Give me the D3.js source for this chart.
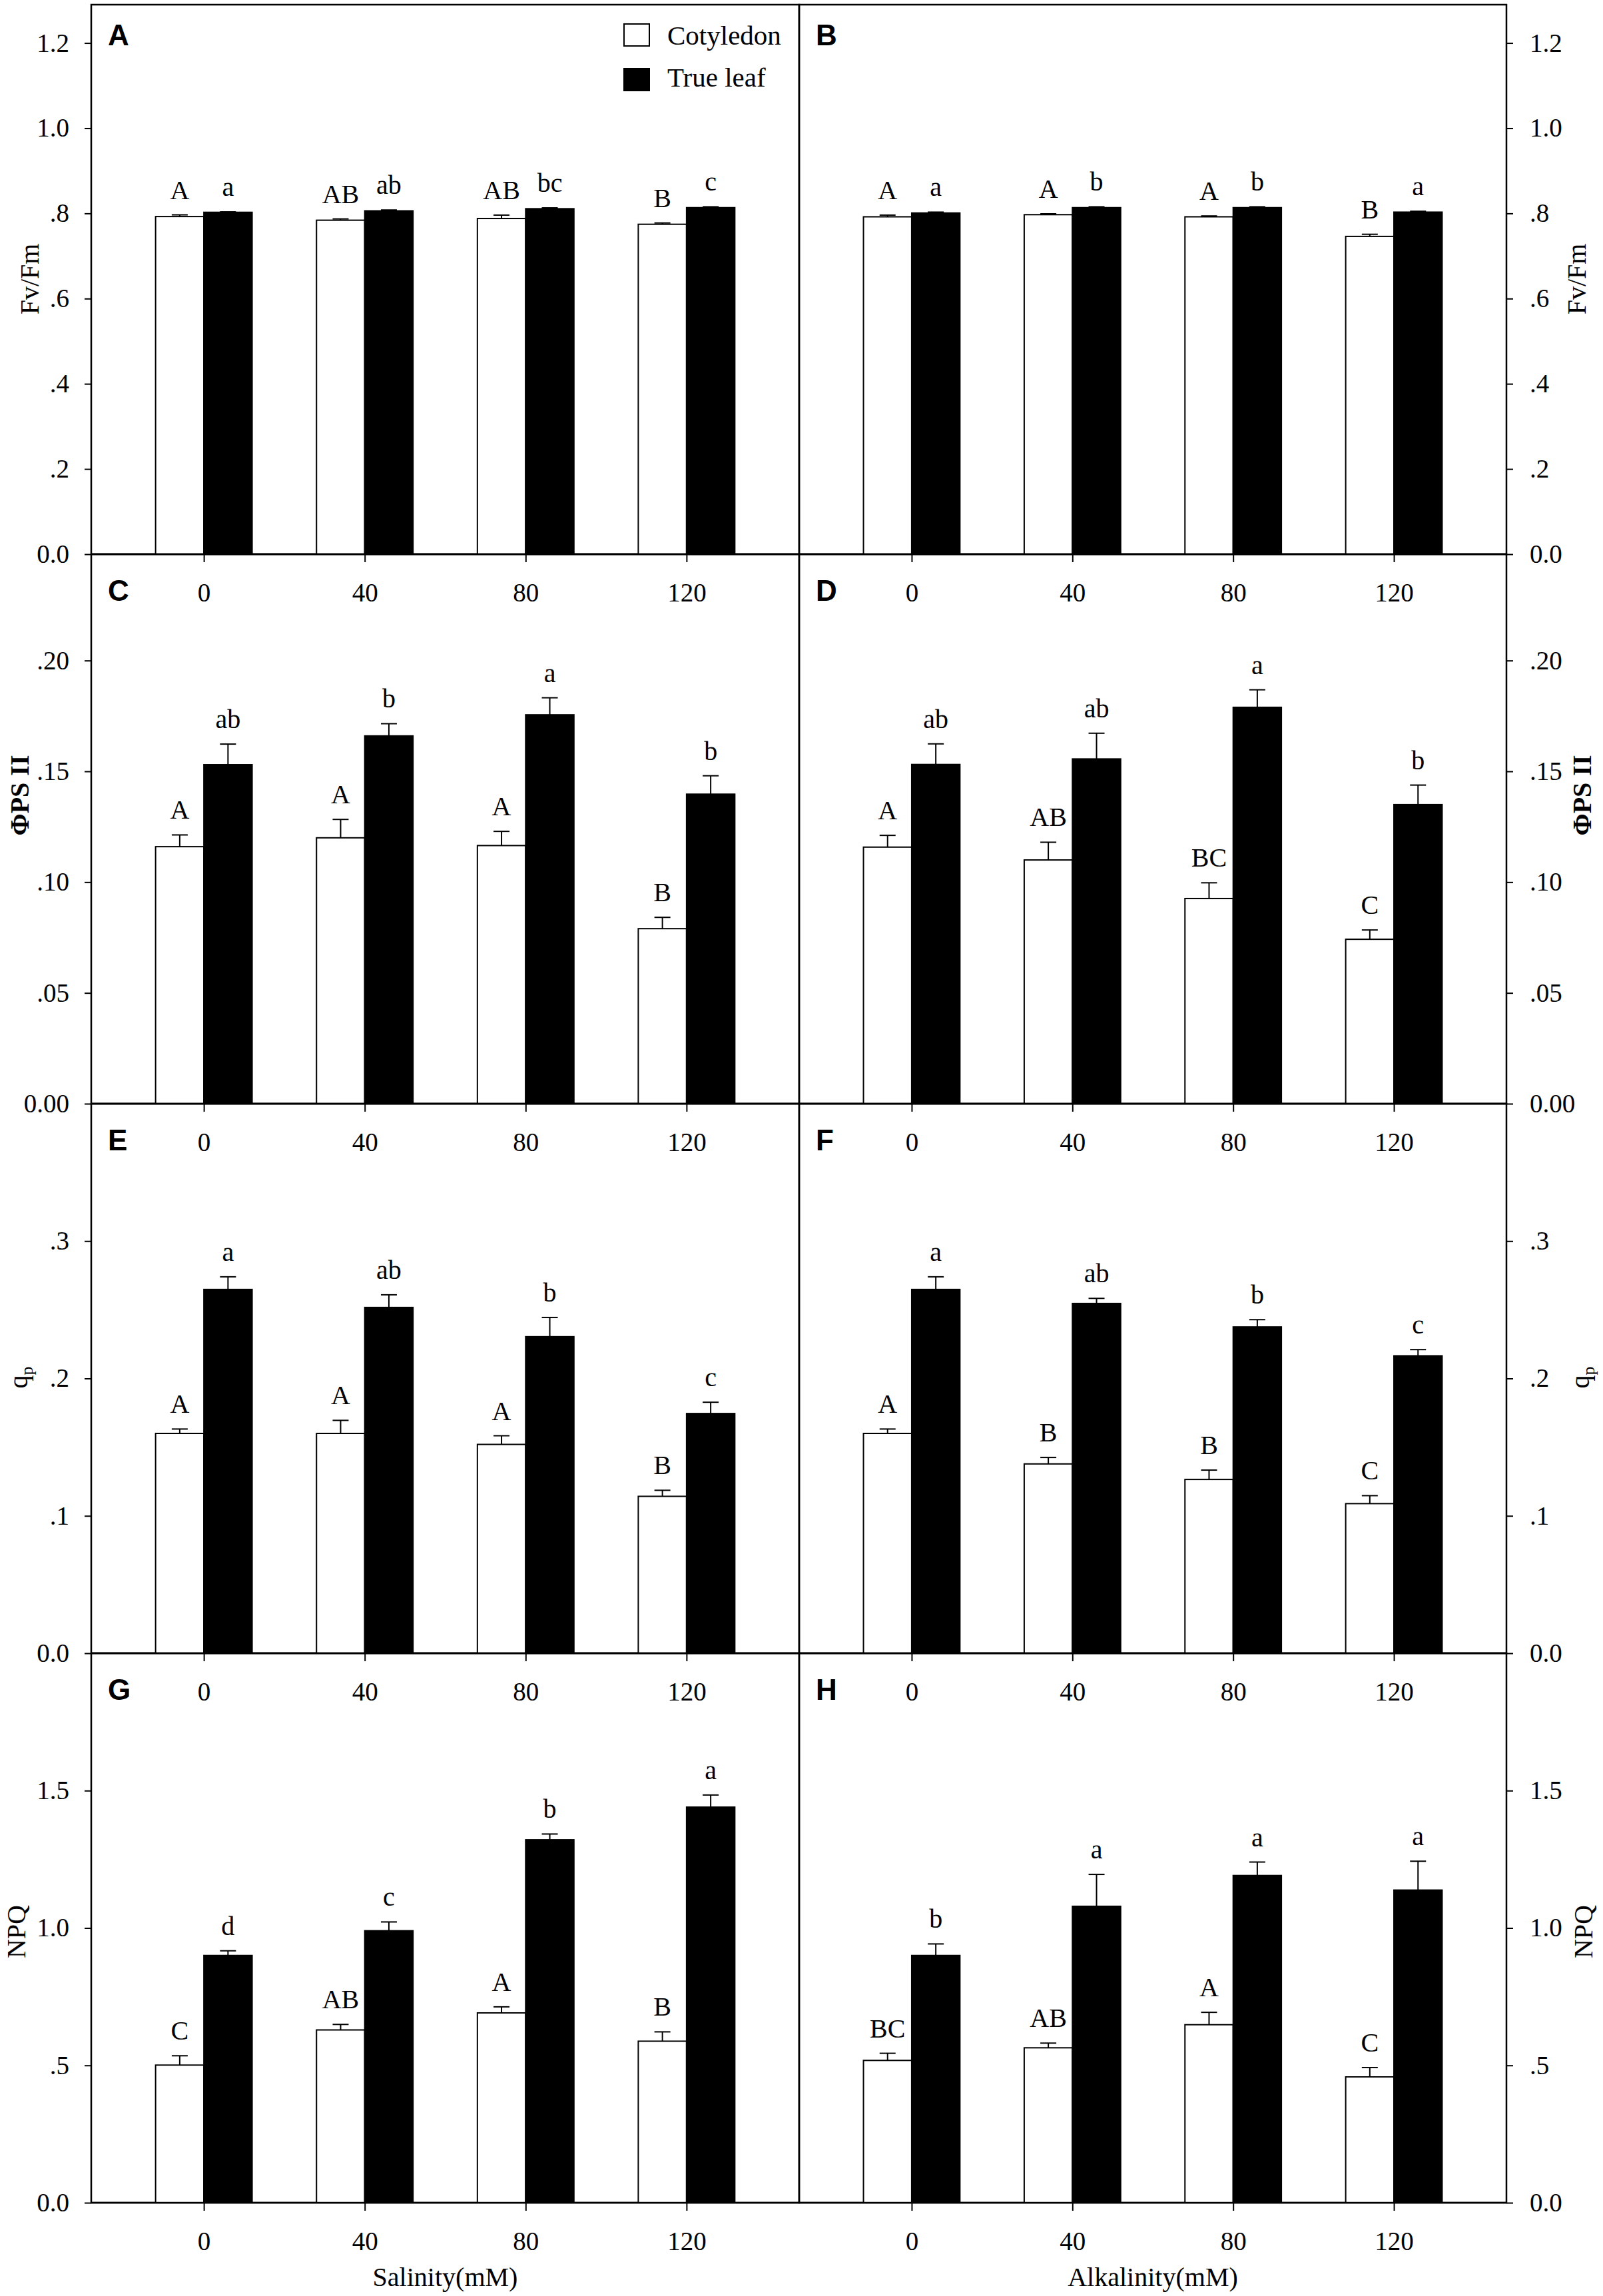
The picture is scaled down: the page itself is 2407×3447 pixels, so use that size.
<!DOCTYPE html>
<html><head><meta charset="utf-8">
<script src="https://cdn.jsdelivr.net/npm/d3@7"></script>
<style>body{margin:0;background:#fff}svg text{font-family:"Liberation Serif","Times New Roman",serif}</style>
</head><body><div id="chart"></div>
<script>
// ---------- data ----------
const concentrations = [0, 40, 80, 120];
const seriesNames = ["Cotyledon", "True leaf"];
const xTickLabels = ["0", "40", "80", "120"];

// Fv/Fm (A: salinity, B: alkalinity)
const fvfmYTicks = [0, 0.2, 0.4, 0.6, 0.8, 1.0, 1.2];
const fvfmYTickLabels = ["0.0", ".2", ".4", ".6", ".8", "1.0", "1.2"];
const A_cot = [0.7926, 0.784, 0.788, 0.7745];
const A_cotErr = [0.004, 0.003, 0.008, 0.003];
const A_leaf = [0.8026, 0.806, 0.811, 0.8135];
const A_leafErr = [0.001, 0.002, 0.002, 0.002];
const A_cotSig = ["A", "AB", "AB", "B"];
const A_leafSig = ["a", "ab", "bc", "c"];
const B_cot = [0.792, 0.797, 0.792, 0.746];
const B_cotErr = [0.004, 0.002, 0.002, 0.005];
const B_leaf = [0.801, 0.8135, 0.8135, 0.803];
const B_leafErr = [0.002, 0.002, 0.002, 0.002];
const B_cotSig = ["A", "A", "A", "B"];
const B_leafSig = ["a", "b", "b", "a"];

// ΦPSII (C: salinity, D: alkalinity)
const phiYTicks = [0, 0.05, 0.10, 0.15, 0.20];
const phiYTickLabels = ["0.00", ".05", ".10", ".15", ".20"];
const C_cot = [0.116, 0.120, 0.1165, 0.079];
const C_cotErr = [0.0053, 0.0083, 0.0064, 0.0051];
const C_leaf = [0.153, 0.166, 0.1755, 0.1397];
const C_leafErr = [0.0093, 0.0055, 0.0077, 0.0083];
const C_cotSig = ["A", "A", "A", "B"];
const C_leafSig = ["ab", "b", "a", "b"];
const D_cot = [0.1158, 0.110, 0.0926, 0.0742];
const D_cotErr = [0.0053, 0.008, 0.0071, 0.0042];
const D_leaf = [0.1531, 0.1556, 0.1789, 0.135];
const D_leafErr = [0.0093, 0.0116, 0.0079, 0.0088];
const D_cotSig = ["A", "AB", "BC", "C"];
const D_leafSig = ["ab", "ab", "a", "b"];

// qP (E: salinity, F: alkalinity)
const qpYTicks = [0, 0.1, 0.2, 0.3];
const qpYTickLabels = ["0.0", ".1", ".2", ".3"];
const E_cot = [0.160, 0.160, 0.152, 0.1142];
const E_cotErr = [0.0032, 0.0095, 0.0063, 0.0044];
const E_leaf = [0.2648, 0.2517, 0.2304, 0.1745];
const E_leafErr = [0.0092, 0.0092, 0.014, 0.0082];
const E_cotSig = ["A", "A", "A", "B"];
const E_leafSig = ["a", "ab", "b", "c"];
const F_cot = [0.160, 0.1378, 0.1265, 0.1089];
const F_cotErr = [0.0032, 0.0047, 0.0068, 0.0058];
const F_leaf = [0.2648, 0.2546, 0.2375, 0.2165];
const F_leafErr = [0.0092, 0.0037, 0.0053, 0.0045];
const F_cotSig = ["A", "B", "B", "C"];
const F_leafSig = ["a", "ab", "b", "c"];

// NPQ (G: salinity, H: alkalinity)
const npqYTicks = [0, 0.5, 1.0, 1.5];
const npqYTickLabels = ["0.0", ".5", "1.0", "1.5"];
const G_cot = [0.501, 0.629, 0.691, 0.588];
const G_cotErr = [0.034, 0.020, 0.022, 0.034];
const G_leaf = [0.900, 0.990, 1.321, 1.440];
const G_leafErr = [0.017, 0.032, 0.021, 0.044];
const G_cotSig = ["C", "AB", "A", "B"];
const G_leafSig = ["d", "c", "b", "a"];
const H_cot = [0.518, 0.564, 0.648, 0.458];
const H_cotErr = [0.026, 0.017, 0.045, 0.034];
const H_leaf = [0.900, 1.079, 1.191, 1.138];
const H_leafErr = [0.042, 0.116, 0.049, 0.105];
const H_cotSig = ["BC", "AB", "A", "C"];
const H_leafSig = ["b", "a", "a", "a"];

const xTitles = ["Salinity(mM)", "Alkalinity(mM)"];

// ---------- panel table ----------
const rows = [
  {title: "Fv/Fm", ymax: 1.29, ticks: fvfmYTicks, labels: fvfmYTickLabels, kind: "plain"},
  {title: "ΦPS II", ymax: 0.248, ticks: phiYTicks, labels: phiYTickLabels, kind: "phi"},
  {title: "q", ymax: 0.4, ticks: qpYTicks, labels: qpYTickLabels, kind: "qp"},
  {title: "NPQ", ymax: 2.0, ticks: npqYTicks, labels: npqYTickLabels, kind: "plain"}
];
const panels = [
  {id: "A", r: 0, c: 0, cot: A_cot, cotErr: A_cotErr, leaf: A_leaf, leafErr: A_leafErr, cotSig: A_cotSig, leafSig: A_leafSig},
  {id: "B", r: 0, c: 1, cot: B_cot, cotErr: B_cotErr, leaf: B_leaf, leafErr: B_leafErr, cotSig: B_cotSig, leafSig: B_leafSig},
  {id: "C", r: 1, c: 0, cot: C_cot, cotErr: C_cotErr, leaf: C_leaf, leafErr: C_leafErr, cotSig: C_cotSig, leafSig: C_leafSig},
  {id: "D", r: 1, c: 1, cot: D_cot, cotErr: D_cotErr, leaf: D_leaf, leafErr: D_leafErr, cotSig: D_cotSig, leafSig: D_leafSig},
  {id: "E", r: 2, c: 0, cot: E_cot, cotErr: E_cotErr, leaf: E_leaf, leafErr: E_leafErr, cotSig: E_cotSig, leafSig: E_leafSig},
  {id: "F", r: 2, c: 1, cot: F_cot, cotErr: F_cotErr, leaf: F_leaf, leafErr: F_leafErr, cotSig: F_cotSig, leafSig: F_leafSig},
  {id: "G", r: 3, c: 0, cot: G_cot, cotErr: G_cotErr, leaf: G_leaf, leafErr: G_leafErr, cotSig: G_cotSig, leafSig: G_leafSig},
  {id: "H", r: 3, c: 1, cot: H_cot, cotErr: H_cotErr, leaf: H_leaf, leafErr: H_leafErr, cotSig: H_cotSig, leafSig: H_leafSig}
];

// ---------- layout ----------
const W = 2407, H = 3447;
const colX = [[137, 1200], [1200, 2262]];
const rowTop0 = 7, rowH = 825;
const barW = 12; // in mM units
const FS = 39;
const titleLeftX = [58, 43, 41, 38];
const titleRightX = [2381, 2389, 2386, 2391];
const titleCY = [419, 1194, 2068, 2900];

const svg = d3.select("#chart").append("svg").attr("width", W).attr("height", H)
  .style("background", "#fff");

panels.forEach(p => {
  const row = rows[p.r];
  const top = rowTop0 + p.r * rowH, bottom = top + rowH;
  const [x0, x1] = colX[p.c];
  const x = d3.scaleLinear().domain([-28, 148]).range([x0, x1]);
  const y = d3.scaleLinear().domain([0, row.ymax]).range([bottom, top]);
  const g = svg.append("g");

  // frame
  g.append("rect").attr("x", x0).attr("y", top).attr("width", x1 - x0).attr("height", rowH)
    .attr("fill", "none").attr("stroke", "#000").attr("stroke-width", 2.5);

  // bars
  const data = concentrations.map((c, i) => ({c, i}));
  g.selectAll(".cot").data(data).enter().append("rect")
    .attr("x", d => x(d.c - barW)).attr("width", d => x(d.c) - x(d.c - barW))
    .attr("y", d => y(p.cot[d.i])).attr("height", d => y(0) - y(p.cot[d.i]))
    .attr("fill", "#fff").attr("stroke", "#000").attr("stroke-width", 2);
  g.selectAll(".leaf").data(data).enter().append("rect")
    .attr("x", d => x(d.c)).attr("width", d => x(d.c + barW) - x(d.c))
    .attr("y", d => y(p.leaf[d.i])).attr("height", d => y(0) - y(p.leaf[d.i]))
    .attr("fill", "#000").attr("stroke", "#000").attr("stroke-width", 2);

  // error bars + significance letters
  const series = [
    {vals: p.cot, errs: p.cotErr, sig: p.cotSig, off: -barW / 2},
    {vals: p.leaf, errs: p.leafErr, sig: p.leafSig, off: barW / 2}
  ];
  series.forEach(s => {
    data.forEach(d => {
      const cx = x(d.c + s.off);
      const yv = y(s.vals[d.i]), ye = y(s.vals[d.i] + s.errs[d.i]);
      g.append("line").attr("x1", cx).attr("x2", cx).attr("y1", yv).attr("y2", ye)
        .attr("stroke", "#000").attr("stroke-width", 2);
      g.append("line").attr("x1", cx - 12).attr("x2", cx + 12).attr("y1", ye).attr("y2", ye)
        .attr("stroke", "#000").attr("stroke-width", 2);
      g.append("text").attr("x", cx).attr("y", ye - 24).attr("text-anchor", "middle")
        .attr("font-size", 40).text(s.sig[d.i]);
    });
  });

  // x axis
  const xa = g.append("g").attr("transform", `translate(0,${bottom})`)
    .call(d3.axisBottom(x).tickValues(concentrations).tickFormat((d, i) => xTickLabels[i])
      .tickSize(12).tickPadding(31));
  xa.select(".domain").attr("stroke-width", 2.5).attr("d", `M${x0},0H${x1}`);
  xa.selectAll(".tick line").attr("stroke-width", 2);
  xa.selectAll("text").attr("font-size", FS).attr("font-family", "Liberation Serif");

  // y axis
  const yAxis = p.c === 0 ? d3.axisLeft(y) : d3.axisRight(y);
  const ya = g.append("g").attr("transform", `translate(${p.c === 0 ? x0 : x1},0)`)
    .call(yAxis.tickValues(row.ticks).tickFormat((d, i) => row.labels[i]).tickSize(10).tickPadding(p.c === 0 ? 23 : 25));
  ya.select(".domain").remove();
  ya.selectAll(".tick line").attr("stroke-width", 2);
  ya.selectAll("text").attr("font-size", FS).attr("font-family", "Liberation Serif");

  // panel letter
  g.append("text").attr("x", x0 + 25).attr("y", top + (p.r === 0 ? 61 : 70))
    .style("font-family", "'Liberation Sans', Arial, sans-serif").attr("font-weight", "bold")
    .attr("font-size", 44).text(p.id);

  // y title
  const tx = p.c === 0 ? titleLeftX[p.r] : titleRightX[p.r];
  const t = g.append("text").attr("transform", `translate(${tx},${titleCY[p.r]}) rotate(-90)`)
    .attr("text-anchor", "middle").attr("font-size", 40);
  if (row.kind === "qp") {
    t.append("tspan").text("q");
    t.append("tspan").attr("font-size", 26).attr("dy", 8).text("p");
  } else if (row.kind === "phi") {
    t.attr("font-weight", "bold").text(row.title);
  } else {
    t.text(row.title);
  }

  // x title under bottom row
  if (p.r === 3) {
    g.append("text").attr("x", (x(0) + x(120)) / 2).attr("y", 3432).attr("text-anchor", "middle")
      .attr("font-size", 40).text(xTitles[p.c]);
  }
});

// legend (panel A)
const legend = svg.append("g");
seriesNames.forEach((name, i) => {
  legend.append("rect").attr("x", 937).attr("y", 36 + i * 67).attr("width", 38).attr("height", 33)
    .attr("fill", i === 0 ? "#fff" : "#000").attr("stroke", "#000").attr("stroke-width", 2);
  legend.append("text").attr("x", 1002).attr("y", 67 + i * 63).attr("font-size", 41).text(name);
});
</script>
</body></html>
